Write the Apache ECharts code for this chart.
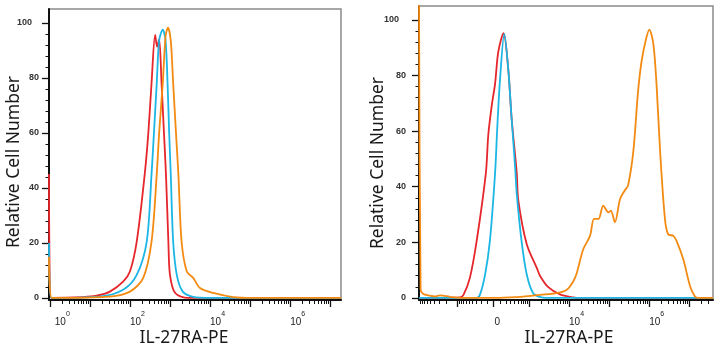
<!DOCTYPE html>
<html>
<head>
<meta charset="utf-8">
<script src="https://cdn.jsdelivr.net/npm/echarts@6/dist/echarts.min.js"></script>
<style>
  html, body { margin: 0; padding: 0; background: #fff; }
  #chart { width: 721px; height: 350px; }
</style>
</head>
<body>
<div id="chart"></div>
<script>
// y axis (relative cell number, %)
const Y_MAJOR = [0, 20, 40, 60, 80, 100];
const Y_MINOR = [4, 8, 12, 16, 24, 28, 32, 36, 44, 48, 52, 56, 64, 68, 72, 76, 84, 88, 92, 96];

// left panel: log10 decades
const LEFT_DECADES = [0, 1, 2, 3, 4, 5, 6, 7];
const LEFT_LABELS = [0, 2, 4, 6];

// right panel: biexponential, raw values
const RIGHT_MAJOR_RAW = [-1000, 0, 1000, 1e4, 1e5, 1e6, 1e7];
const RIGHT_LABEL_RAW = [0, 1e4, 1e6];

// curves, left panel: [log10 decade, % of max]
const LEFT_RED = [[-0.02, 45], [0.03, 0], [0.83, 0.3], [1.17, 0.8], [1.5, 2.3], [1.83, 5.9], [2.0, 9.6], [2.17, 20.5], [2.37, 45], [2.46, 60], [2.54, 78], [2.63, 95.6], [2.68, 91.3], [2.73, 94], [2.79, 78], [2.85, 60], [2.9, 45], [2.96, 20.5], [3.0, 8.4], [3.13, 1.8], [3.45, 0], [7.27, 0]];
const LEFT_BLUE = [[-0.02, 20], [0.03, 0], [1.25, 0.5], [1.83, 3], [2.17, 8.4], [2.42, 20.5], [2.54, 45], [2.6, 60], [2.67, 78], [2.73, 93.5], [2.82, 97.5], [2.89, 93.5], [2.94, 78], [2.98, 60], [3.02, 45], [3.08, 20.5], [3.17, 8.4], [3.32, 2.3], [3.58, 0.4], [4.0, 0], [7.27, 0]];
const LEFT_ORANGE = [[-0.02, 15], [0.05, 0], [1.5, 0.5], [2.0, 2.3], [2.33, 7.2], [2.54, 20.5], [2.67, 45], [2.73, 60], [2.82, 78], [2.89, 95], [2.95, 98.2], [3.02, 93.5], [3.08, 78], [3.15, 60], [3.21, 45], [3.29, 20.5], [3.42, 9.6], [3.58, 7.3], [3.75, 3.6], [4.08, 1.8], [4.58, 0.3], [5.08, 0], [7.27, 0]];

// curves, right panel: [biex display units, % of max]
const RIGHT_RED = [[-1.86, 0], [-0.84, 0.2], [-0.75, 1.1], [-0.59, 7.2], [-0.42, 20.5], [-0.19, 45], [-0.13, 58.7], [-0.04, 69.6], [0.04, 77.1], [0.12, 88.6], [0.25, 95.2], [0.37, 82], [0.45, 65], [0.58, 45], [0.62, 35], [0.83, 19.3], [1.08, 10.8], [1.16, 8], [1.36, 4], [1.66, 1.3], [1.99, 0.2], [2.16, 0], [5.48, 0]];
const RIGHT_BLUE = [[-1.86, 0], [-0.42, 0], [-0.34, 1.1], [-0.21, 8.4], [-0.09, 20.5], [0.04, 45], [0.09, 60], [0.16, 78], [0.27, 95], [0.37, 82], [0.45, 65], [0.54, 47], [0.58, 37.5], [0.7, 20.5], [0.83, 8.4], [0.99, 1.7], [1.2, 0.2], [1.41, 0], [5.48, 0]];
const RIGHT_ORANGE = [[-1.86, 110], [-1.82, 3], [-1.76, 1.5], [-1.59, 0.8], [-1.46, 0.5], [-1.34, 0.9], [-1.09, 0.4], [-0.84, 0], [-0.01, 0], [0.41, 0.2], [0.74, 0.5], [1.16, 1.1], [1.58, 1.7], [1.83, 2.9], [1.99, 5.9], [2.08, 9], [2.24, 17.5], [2.41, 22.3], [2.51, 28.4], [2.62, 28.4], [2.74, 33.2], [2.87, 30.8], [2.93, 31.4], [3.03, 27.2], [3.16, 35.6], [3.28, 38.7], [3.36, 40.5], [3.49, 52.6], [3.61, 74.5], [3.7, 85.4], [3.81, 93.2], [3.89, 96.5], [3.99, 91.4], [4.07, 76.9], [4.16, 52.6], [4.28, 28.4], [4.36, 22.9], [4.49, 22.3], [4.57, 20.5], [4.74, 13.8], [4.91, 4.1], [5.03, 0.5], [5.11, 0], [5.48, 0]];

const COLORS = { red: '#e5262c', blue: '#1bb6e4', orange: '#f38a12' };
const FONT = 'Liberation Sans';
const TITLE_FONT = '17.5px "Noto Sans"';

const LEFT_RANGE = [-0.02, 7.27];
const RIGHT_RANGE = [-1.86, 5.48];
const BIEX_W = 130;
const biex = (v) => Math.asinh(v / (2 * BIEX_W)) / Math.LN10;

const inRange = (r) => (v) => v >= r[0] && v <= r[1];

const leftMinor = [];
LEFT_DECADES.forEach((d) => {
  for (let k = 2; k <= 9; k++) leftMinor.push(d + Math.log10(k));
});

const rightMinorRaw = [];
for (let e = 2; e <= 7; e++) {
  for (let k = (e === 2 ? 1 : 2); k <= 9; k++) {
    const v = k * Math.pow(10, e);
    rightMinorRaw.push(v);
    if (e <= 3) rightMinorRaw.push(-v);
  }
}

const supLabel = (exp, first) => '{' + (first ? 'b0' : 'b') + '|10}{s|' + exp + '}';
const xText = { fontFamily: FONT, color: '#222', lineHeight: 16 };
const xRich = {
  b: { ...xText, fontSize: 10, verticalAlign: 'bottom' },
  b0: { ...xText, fontSize: 10, verticalAlign: 'bottom', padding: [0, 0, 0, 5] },
  s: { ...xText, fontSize: 7, verticalAlign: 'top' },
  z: { ...xText, fontSize: 10, verticalAlign: 'bottom', padding: [0, 0, 0, 1] },
};

const yRich = {
  n: { fontSize: 9, fontWeight: 'bold', fontFamily: FONT, color: '#333' },
  w: { fontSize: 9, fontWeight: 'bold', fontFamily: FONT, color: '#333', padding: [0, 7, 0, 0] },
};

const majorX = (gridIndex, range, ticks, labels, formatter) => ({
  type: 'value', gridIndex, min: range[0], max: range[1], position: 'bottom',
  axisLine: { show: true, onZero: false, lineStyle: { color: '#111', width: 2 } },
  axisTick: { show: true, customValues: ticks, length: 7, lineStyle: { color: '#111', width: 1.3 } },
  axisLabel: { show: true, customValues: labels, margin: 11, align: 'left', formatter, rich: xRich },
  splitLine: { show: false },
});

const minorX = (gridIndex, range, ticks) => ({
  type: 'value', gridIndex, min: range[0], max: range[1], position: 'bottom',
  axisLine: { show: false, onZero: false },
  axisTick: { show: true, customValues: ticks, length: 4, lineStyle: { color: '#111', width: 1 } },
  axisLabel: { show: false },
  splitLine: { show: false },
});

const majorY = (gridIndex, margin) => ({
  type: 'value', gridIndex, min: -0.75, max: 105, position: 'left',
  axisLine: { show: true, onZero: false, lineStyle: { color: '#111', width: 2 } },
  axisTick: { show: true, customValues: Y_MAJOR, length: 7, lineStyle: { color: '#111', width: 1.3 } },
  axisLabel: {
    show: true, customValues: Y_MAJOR, margin,
    formatter: (v) => (v === 100 ? '{w|100}' : '{n|' + v + '}'),
    rich: yRich,
  },
  splitLine: { show: false },
});

const minorY = (gridIndex) => ({
  type: 'value', gridIndex, min: -0.75, max: 105, position: 'left',
  axisLine: { show: false, onZero: false },
  axisTick: { show: true, customValues: Y_MINOR, length: 3.5, lineStyle: { color: '#111', width: 1 } },
  axisLabel: { show: false },
  splitLine: { show: false },
});

const curve = (data, color, xAxisIndex, yAxisIndex) => ({
  type: 'line', data, xAxisIndex, yAxisIndex,
  showSymbol: false, smooth: 0.3, clip: true,
  lineStyle: { color, width: 1.8 },
  emphasis: { disabled: true },
});

const chart = echarts.init(document.getElementById('chart'), null, { renderer: 'canvas' });

const rightMajor = RIGHT_MAJOR_RAW.map(biex).filter(inRange(RIGHT_RANGE));
const rightMinor = rightMinorRaw.map(biex).filter(inRange(RIGHT_RANGE));
const rightLabels = RIGHT_LABEL_RAW.map(biex);

const rightFormatter = (v) => {
  const i = rightLabels.findIndex((t) => Math.abs(t - v) < 1e-6);
  if (i < 0) return '';
  const raw = RIGHT_LABEL_RAW[i];
  return raw === 0 ? '{z|0}' : supLabel(Math.round(Math.log10(raw)), false);
};

const title = (x, y, rotation) => ({
  type: 'text', x, y, rotation,
  style: { text: '', font: TITLE_FONT, fill: '#1a1a1a', align: 'center', verticalAlign: 'middle' },
});

const titles = [
  title(184, 338, 0), title(569, 338, 0),
  title(14, 162, Math.PI / 2), title(378, 163, Math.PI / 2),
];
titles[0].style.text = titles[1].style.text = 'IL-27RA-PE';
titles[2].style.text = titles[3].style.text = 'Relative Cell Number';

chart.setOption({
  animation: false,
  backgroundColor: '#fff',
  grid: [
    { left: 49, right: 380, top: 9, bottom: 50, show: true, borderColor: '#8a8a8a', borderWidth: 1.5, backgroundColor: 'transparent' },
    { left: 419, right: 8, top: 6, bottom: 50, show: true, borderColor: '#8a8a8a', borderWidth: 1.5, backgroundColor: 'transparent' },
  ],
  xAxis: [
    majorX(0, LEFT_RANGE, LEFT_DECADES.filter(inRange(LEFT_RANGE)), LEFT_LABELS, (v) => supLabel(Math.round(v), Math.round(v) === 0)),
    minorX(0, LEFT_RANGE, leftMinor.filter(inRange(LEFT_RANGE))),
    majorX(1, RIGHT_RANGE, rightMajor, rightLabels, rightFormatter),
    minorX(1, RIGHT_RANGE, rightMinor),
  ],
  yAxis: [majorY(0, 10), minorY(0), majorY(1, 13), minorY(1)],
  series: [
    curve(LEFT_RED, COLORS.red, 0, 0),
    curve(LEFT_BLUE, COLORS.blue, 0, 0),
    curve(LEFT_ORANGE, COLORS.orange, 0, 0),
    curve(RIGHT_RED, COLORS.red, 2, 2),
    curve(RIGHT_BLUE, COLORS.blue, 2, 2),
    curve(RIGHT_ORANGE, COLORS.orange, 2, 2),
  ],
  graphic: titles,
});
</script>
</body>
</html>
